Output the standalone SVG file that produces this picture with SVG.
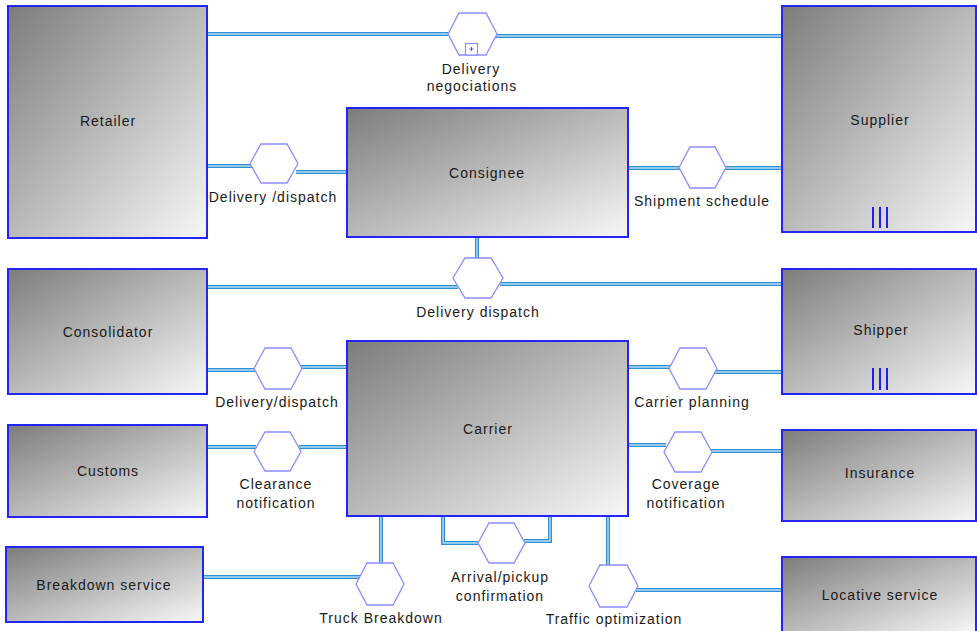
<svg xmlns="http://www.w3.org/2000/svg" xmlns:xlink="http://www.w3.org/1999/xlink" width="977" height="631" viewBox="0 0 977 631">
<defs>
<linearGradient id="gr" x1="0" y1="0" x2="1" y2="1">
<stop offset="0" stop-color="#7c7c7c"/>
<stop offset="1" stop-color="#f7f7f7"/>
</linearGradient>
<style>
.box{fill:url(#gr);stroke:#2424f4;stroke-width:2}
.hex{fill:#ffffff;stroke:#8c8cff;stroke-width:1.3}
.lbl{font-family:"Liberation Sans",Arial,sans-serif;font-size:14px;letter-spacing:1px;fill:#1a1a1a;text-anchor:middle}
.outer{fill:none;stroke:#2f90d2;stroke-width:4}
.inner{fill:none;stroke:#b4def6;stroke-width:1.4}
.bar{stroke:#2020e0;stroke-width:2}
</style>
<path id="c1" d="M207,34 L450,34"/>
<path id="c2" d="M495,36 L782,36"/>
<path id="c3" d="M207,166 L252,166"/>
<path id="c4" d="M296,172 L347,172"/>
<path id="c5" d="M628,168 L680,168"/>
<path id="c6" d="M725,168 L782,168"/>
<path id="c7" d="M477,237 L477,258"/>
<path id="c8" d="M207,287 L458,287"/>
<path id="c9" d="M500,284 L782,284"/>
<path id="c10" d="M207,370 L256,370"/>
<path id="c11" d="M300,367 L347,367"/>
<path id="c12" d="M628,367 L670,367"/>
<path id="c13" d="M715,372 L782,372"/>
<path id="c14" d="M207,447 L256,447"/>
<path id="c15" d="M299,447 L347,447"/>
<path id="c16" d="M628,445 L666,445"/>
<path id="c17" d="M710,451 L782,451"/>
<path id="c18" d="M203,577 L360,577"/>
<path id="c19" d="M381,516 L381,563"/>
<path id="c20" d="M443,516 L443,543 L478,543"/>
<path id="c21" d="M550,516 L550,541 L524,541"/>
<path id="c22" d="M608,516 L608,565"/>
<path id="c23" d="M636,590 L782,590"/>
</defs>
<rect width="977" height="631" fill="#ffffff"/>
<g id="connectors">
<g class="outer">
<use xlink:href="#c1"/><use xlink:href="#c2"/><use xlink:href="#c3"/><use xlink:href="#c4"/><use xlink:href="#c5"/><use xlink:href="#c6"/><use xlink:href="#c7"/><use xlink:href="#c8"/><use xlink:href="#c9"/><use xlink:href="#c10"/><use xlink:href="#c11"/><use xlink:href="#c12"/><use xlink:href="#c13"/><use xlink:href="#c14"/><use xlink:href="#c15"/><use xlink:href="#c16"/><use xlink:href="#c17"/><use xlink:href="#c18"/><use xlink:href="#c19"/><use xlink:href="#c20"/><use xlink:href="#c21"/><use xlink:href="#c22"/><use xlink:href="#c23"/>
</g>
<g class="inner">
<use xlink:href="#c1"/><use xlink:href="#c2"/><use xlink:href="#c3"/><use xlink:href="#c4"/><use xlink:href="#c5"/><use xlink:href="#c6"/><use xlink:href="#c7"/><use xlink:href="#c8"/><use xlink:href="#c9"/><use xlink:href="#c10"/><use xlink:href="#c11"/><use xlink:href="#c12"/><use xlink:href="#c13"/><use xlink:href="#c14"/><use xlink:href="#c15"/><use xlink:href="#c16"/><use xlink:href="#c17"/><use xlink:href="#c18"/><use xlink:href="#c19"/><use xlink:href="#c20"/><use xlink:href="#c21"/><use xlink:href="#c22"/><use xlink:href="#c23"/>
</g>
</g>
<g id="flow-delivery-negociations">
<polygon class="hex" points="448,34 459,13 486,13 497,34 486,55 459,55"/>
<rect x="465.5" y="43.5" width="12" height="11.5" fill="#ffffff" stroke="#8c8cff" stroke-width="1.2"/>
<path d="M469.5,49 L473.5,49 M471.5,47 L471.5,51" stroke="#5050e0" stroke-width="1"/>
<text class="lbl" x="471" y="74">Delivery</text>
<text class="lbl" x="472" y="91">negociations</text>
</g>
<g id="flow-delivery-dispatch-1">
<polygon class="hex" points="250,163.5 261,144 287,144 298,163.5 287,183 261,183"/>
<text class="lbl" x="273" y="202">Delivery /dispatch</text>
</g>
<g id="flow-shipment-schedule">
<polygon class="hex" points="679,167.5 690,147 715,147 726,167.5 715,188 690,188"/>
<text class="lbl" x="702" y="206">Shipment schedule</text>
</g>
<g id="flow-delivery-dispatch-2">
<polygon class="hex" points="453,278 465,258 491,258 503,278 491,298 465,298"/>
<text class="lbl" x="478" y="317">Delivery dispatch</text>
</g>
<g id="flow-delivery-dispatch-3">
<polygon class="hex" points="254,368.5 265,348 291,348 302,368.5 291,389 265,389"/>
<text class="lbl" x="277" y="407">Delivery/dispatch</text>
</g>
<g id="flow-carrier-planning">
<polygon class="hex" points="669,368.5 680,348 706,348 717,368.5 706,389 680,389"/>
<text class="lbl" x="692" y="407">Carrier planning</text>
</g>
<g id="flow-clearance-notification">
<polygon class="hex" points="254,451.5 265,432 290,432 301,451.5 290,471 265,471"/>
<text class="lbl" x="276" y="489">Clearance</text>
<text class="lbl" x="276" y="508">notification</text>
</g>
<g id="flow-coverage-notification">
<polygon class="hex" points="664,452 675,432 701,432 712,452 701,472 675,472"/>
<text class="lbl" x="686" y="489">Coverage</text>
<text class="lbl" x="686" y="508">notification</text>
</g>
<g id="flow-truck-breakdown">
<polygon class="hex" points="356,584 367,563 393,563 404,584 393,605 367,605"/>
<text class="lbl" x="381" y="623">Truck Breakdown</text>
</g>
<g id="flow-arrival-pickup">
<polygon class="hex" points="478,543 489,523 514,523 525,543 514,563 489,563"/>
<text class="lbl" x="500" y="582">Arrival/pickup</text>
<text class="lbl" x="500" y="601">confirmation</text>
</g>
<g id="flow-traffic-optimization">
<polygon class="hex" points="589,586 600,565 627,565 638,586 627,607 600,607"/>
<text class="lbl" x="614" y="624">Traffic optimization</text>
</g>
<g id="node-retailer">
<rect class="box" x="8" y="6" width="199" height="232"/>
<text class="lbl" x="108" y="126">Retailer</text>
</g>
<g id="node-supplier">
<rect class="box" x="782" y="6" width="194" height="226"/>
<text class="lbl" x="880" y="125">Supplier</text>
<path class="bar" d="M873,207 L873,228 M880,207 L880,228 M887,207 L887,228"/>
</g>
<g id="node-consignee">
<rect class="box" x="347" y="108" width="281" height="129"/>
<text class="lbl" x="487" y="178">Consignee</text>
</g>
<g id="node-consolidator">
<rect class="box" x="8" y="269" width="199" height="125"/>
<text class="lbl" x="108" y="337">Consolidator</text>
</g>
<g id="node-shipper">
<rect class="box" x="782" y="269" width="194" height="125"/>
<text class="lbl" x="881" y="335">Shipper</text>
<path class="bar" d="M873,368 L873,390 M880,368 L880,390 M887,368 L887,390"/>
</g>
<g id="node-carrier">
<rect class="box" x="347" y="341" width="281" height="175"/>
<text class="lbl" x="488" y="434">Carrier</text>
</g>
<g id="node-customs">
<rect class="box" x="8" y="425" width="199" height="92"/>
<text class="lbl" x="108" y="476">Customs</text>
</g>
<g id="node-insurance">
<rect class="box" x="782" y="430" width="194" height="91"/>
<text class="lbl" x="880" y="478">Insurance</text>
</g>
<g id="node-breakdown-service">
<rect class="box" x="6" y="547" width="197" height="75"/>
<text class="lbl" x="104" y="590">Breakdown service</text>
</g>
<g id="node-locative-service">
<rect class="box" x="782" y="557" width="194" height="76"/>
<text class="lbl" x="880" y="600">Locative service</text>
</g>
</svg>
